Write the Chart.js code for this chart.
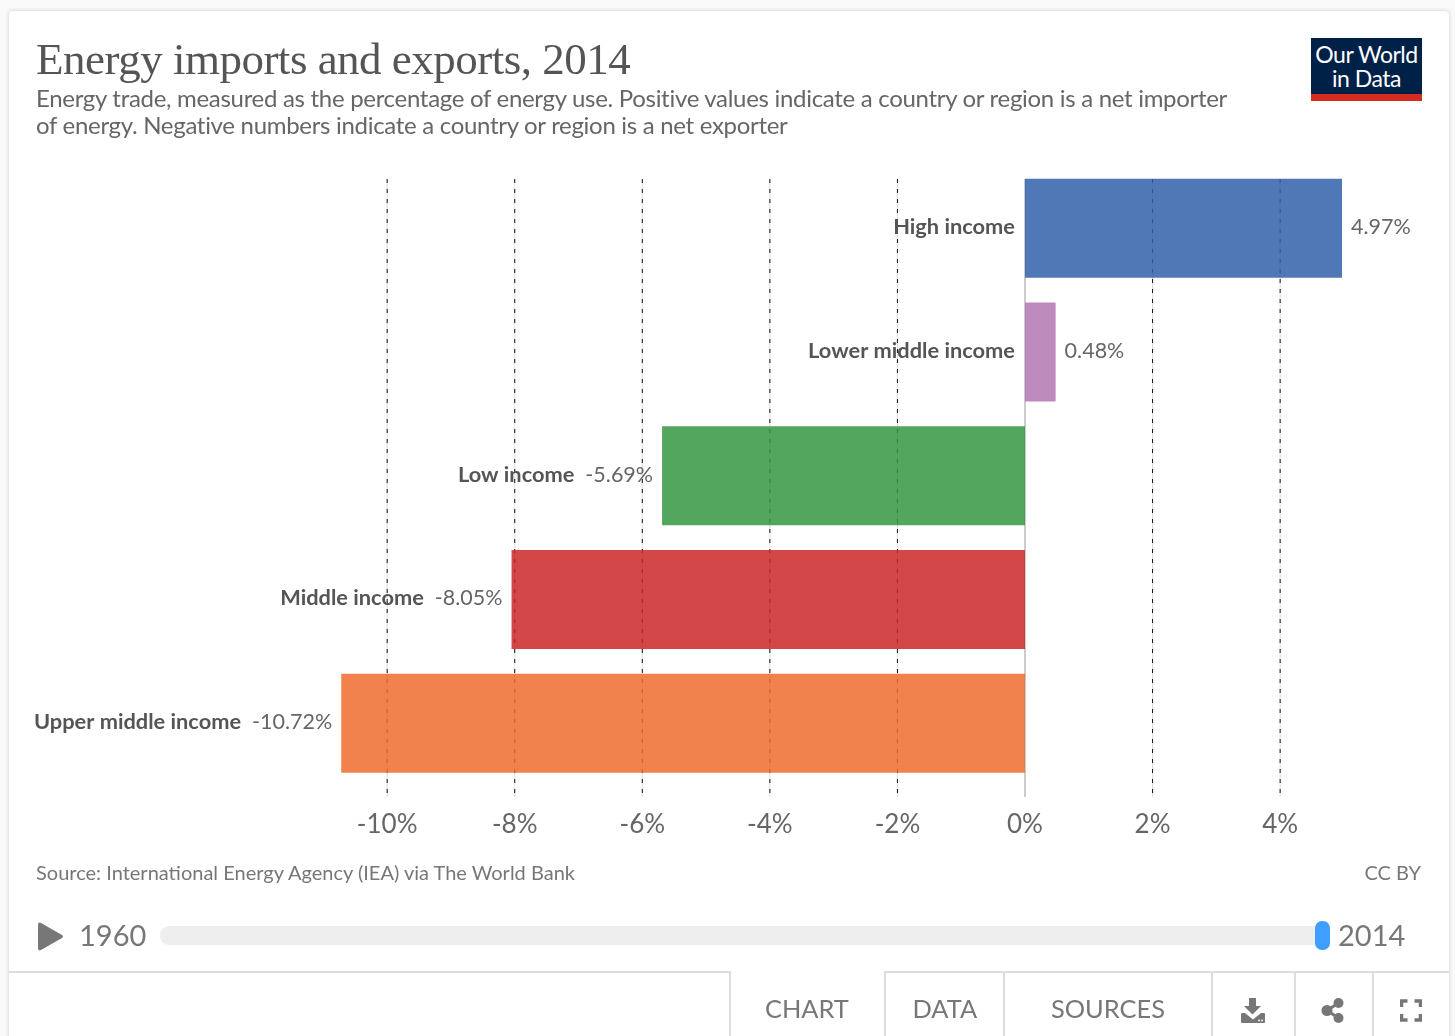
<!DOCTYPE html>
<html>
<head>
<meta charset="utf-8">
<title>Energy imports and exports, 2014</title>
<script src="https://cdn.jsdelivr.net/npm/chart.js@4"></script>
<style>
  html, body { margin: 0; padding: 0; background: #f9f9f9; }
  body { width: 1455px; height: 1036px; overflow: hidden; position: relative; font-family: Lato, sans-serif; }
  #card { position: absolute; left: 9px; top: 11px; width: 1440px; height: 1040px; background: #fff; border-radius: 4px; box-shadow: 0 0 4px rgba(0,0,0,0.18); }
  #chart { position: absolute; left: 0; top: 0; }
  .txt { position: absolute; white-space: nowrap; }
  #title { left: 36px; top: 32px; font: 45px/54px "Liberation Serif", serif; color: #555; letter-spacing: -0.5px; }
  #subtitle { left: 36px; top: 84px; font-size: 24px; line-height: 27px; color: #666; letter-spacing: -0.3px; }
  #source { left: 36px; top: 859px; font-size: 20px; line-height: 26px; color: #777; }
  #license { right: 34px; top: 859px; font-size: 20px; line-height: 26px; color: #777; }
  .year { top: 916px; font-size: 29px; line-height: 38px; color: #777; }
  #logo { position: absolute; left: 1311px; top: 38px; width: 111px; height: 52px; background: #002147; border-bottom: 7px solid #d42b21; color: #fff; text-align: center; font-size: 23px; line-height: 24px; padding-top: 4px; letter-spacing: -0.5px; }
  #track { position: absolute; left: 160px; top: 926px; width: 1165px; height: 19px; background: #eee; border-radius: 9px; }
  #handle { position: absolute; left: 1315px; top: 921px; width: 15px; height: 29px; background: #3f9eff; border-radius: 7px; }
  .rule { position: absolute; background: #ddd; }
  .tab { top: 992px; font-size: 25.4px; line-height: 32px; color: #777; }
  svg { position: absolute; }
</style>
</head>
<body>
<div id="card"></div>
<canvas id="chart" width="1455" height="1036"></canvas>

<div class="txt" id="title">Energy imports and exports, 2014</div>
<div class="txt" id="subtitle">Energy trade, measured as the percentage of energy use. Positive values indicate a country or region is a net importer<br>of energy. Negative numbers indicate a country or region is a net exporter</div>
<div id="logo">Our World<br>in Data</div>
<div class="txt" id="source">Source: International Energy Agency (IEA) via The World Bank</div>
<div class="txt" id="license">CC BY</div>

<svg style="left:36px;top:920px" width="30" height="33"><path d="M5 3 L26 15 Q28 16.5 26 18 L5 30 Q2 31.5 2 28 L2 5 Q2 1.5 5 3 Z" fill="#777"/></svg>
<div class="txt year" style="left:79px">1960</div>
<div id="track"></div>
<div id="handle"></div>
<div class="txt year" style="left:1338px">2014</div>

<div class="rule" style="left:9px;top:971px;width:722px;height:2px"></div>
<div class="rule" style="left:729px;top:971px;width:2px;height:65px"></div>
<div class="rule" style="left:884px;top:971px;width:565px;height:2px"></div>
<div class="rule" style="left:884px;top:971px;width:2px;height:65px"></div>
<div class="rule" style="left:1003px;top:971px;width:2px;height:65px"></div>
<div class="rule" style="left:1211px;top:971px;width:2px;height:65px"></div>
<div class="rule" style="left:1294px;top:971px;width:2px;height:65px"></div>
<div class="rule" style="left:1372px;top:971px;width:2px;height:65px"></div>
<div class="txt tab" style="left:765px">CHART</div>
<div class="txt tab" style="left:912.5px">DATA</div>
<div class="txt tab" style="left:1051px">SOURCES</div>

<svg style="left:1240px;top:997px" width="26" height="27" viewBox="0 0 26 27"><path d="M9 1h7v8h5l-8.500 8.500L4 9h5z" fill="#777"/><path d="M2 16h3l8 6.500 8-6.500h3q1 0 1 1v8q0 1-1 1H2q-1 0-1-1v-8q0-1 1-1z" fill="#777"/><circle cx="19" cy="23.500" r="0.900" fill="#fff"/><circle cx="22" cy="23.500" r="0.900" fill="#fff"/></svg>
<svg style="left:1321px;top:997px" width="24" height="27" viewBox="0 0 24 27"><g fill="#777"><circle cx="17.500" cy="6" r="5"/><circle cx="6" cy="13.500" r="5.500"/><circle cx="17.500" cy="21" r="5"/></g><path d="M17.500 6 L6 13.500 L17.500 21" stroke="#777" stroke-width="3" fill="none"/></svg>
<svg style="left:1400px;top:999px" width="22" height="23" viewBox="0 0 22 23"><path d="M1.500 8V2h6 M14.500 2h6v6 M20.500 15v6h-6 M7.500 21h-6v-6" stroke="#777" stroke-width="3.500" fill="none"/></svg>

<script>
// energy trade as % of energy use, 2014
const categories = ["High income", "Lower middle income", "Low income", "Middle income", "Upper middle income"];
const values = [4.97, 0.48, -5.69, -8.05, -10.72];
const barColors = ["#3360a9", "#b176b1", "#349641", "#cb2728", "#ee6c2e"];
const xTicks = [-10, -8, -6, -4, -2, 0, 2, 4];

const GRID_TOP = 179;
const GRID_BOTTOM = 797;

function withAlpha(hex, a) {
  const n = parseInt(hex.slice(1), 16);
  return "rgba(" + (n >> 16) + "," + ((n >> 8) & 255) + "," + (n & 255) + "," + a + ")";
}

// grid runs from the top of the first bar to below the last one,
// so it does not follow the chart area
const gridLines = {
  id: "gridLines",
  beforeDatasetsDraw(chart) {
    const ctx = chart.ctx;
    const x = chart.scales.x;
    ctx.save();
    x.ticks.forEach(t => {
      const px = x.getPixelForValue(t.value);
      ctx.beginPath();
      ctx.moveTo(px, GRID_TOP);
      ctx.lineTo(px, GRID_BOTTOM);
      if (t.value === 0) {
        ctx.lineWidth = 1.5;
        ctx.strokeStyle = "#bbb";
        ctx.setLineDash([]);
        ctx.stroke();
      } else {
        ctx.lineWidth = 1;
        ctx.strokeStyle = "#ddd";
        ctx.setLineDash([]);
        ctx.stroke();
        ctx.strokeStyle = "#111";
        ctx.setLineDash([4, 6]);
        ctx.stroke();
      }
    });
    ctx.restore();
  }
};

// category name and value next to each bar
const barLabels = {
  id: "barLabels",
  afterDatasetsDraw(chart) {
    const ctx = chart.ctx;
    const x = chart.scales.x;
    const y = chart.scales.y;
    const zero = x.getPixelForValue(0);
    const valueFont = "21.5px Lato";
    const nameFont = "bold 21.8px Lato";
    ctx.save();
    ctx.textBaseline = "middle";
    values.forEach((v, i) => {
      const py = y.getPixelForValue(i) - 1;
      const end = x.getPixelForValue(v);
      const valueText = v.toFixed(2) + "%";
      if (v >= 0) {
        ctx.textAlign = "left";
        ctx.font = valueFont;
        ctx.fillStyle = "#666";
        ctx.fillText(valueText, end + 9, py);
        ctx.textAlign = "right";
        ctx.font = nameFont;
        ctx.fillStyle = "#555";
        ctx.fillText(categories[i], zero - 10, py);
      } else {
        ctx.textAlign = "right";
        ctx.font = valueFont;
        ctx.fillStyle = "#666";
        ctx.fillText(valueText, end - 9, py);
        const w = ctx.measureText(valueText).width;
        ctx.font = nameFont;
        ctx.fillStyle = "#555";
        ctx.fillText(categories[i], end - 9 - w - 11, py);
      }
    });
    ctx.restore();
  }
};

new Chart(document.getElementById("chart").getContext("2d"), {
  type: "bar",
  data: {
    labels: categories,
    datasets: [{
      data: values,
      backgroundColor: barColors.map(c => withAlpha(c, 0.85)),
      borderWidth: 0,
      barPercentage: 0.8,
      categoryPercentage: 1
    }]
  },
  plugins: [gridLines, barLabels],
  options: {
    indexAxis: "y",
    responsive: false,
    animation: false,
    layout: { padding: { left: 259.6, right: 47.3, top: 166.3, bottom: 190.95 } },
    plugins: { legend: { display: false }, tooltip: { enabled: false } },
    scales: {
      x: {
        type: "linear",
        min: -12,
        max: 6,
        afterBuildTicks(scale) { scale.ticks = xTicks.map(v => ({ value: v })); },
        afterFit(scale) { scale.height = 60; },
        grid: { display: false },
        border: { display: false },
        ticks: {
          maxRotation: 0,
          padding: 16,
          color: "#666",
          font: { family: "Lato", size: 26 },
          callback: v => v + "%"
        }
      },
      y: { display: false }
    }
  }
});
</script>
</body>
</html>
